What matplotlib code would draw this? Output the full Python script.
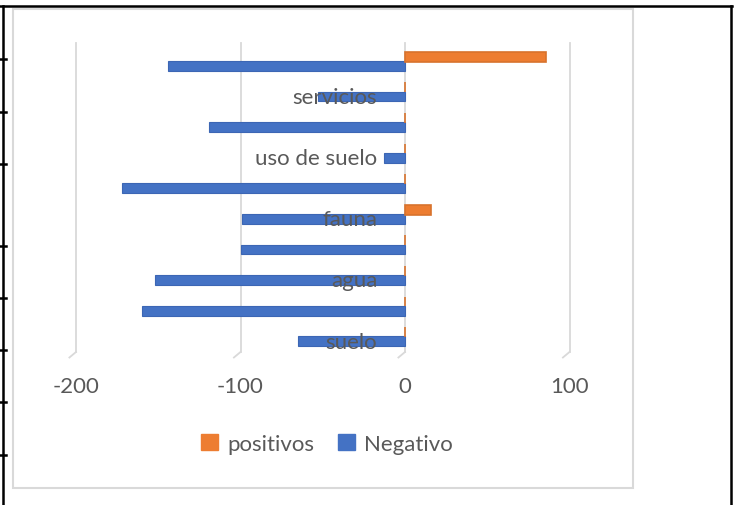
import numpy as np
import matplotlib
matplotlib.use("Agg")
import matplotlib.pyplot as plt
import matplotlib.transforms as mtransforms
from matplotlib.patches import Rectangle, Patch
from matplotlib.lines import Line2D

# categories bottom -> top (only every second label is shown in the original)
categories = ["suelo", "", "agua", "", "fauna", "", "uso de suelo", "", "servicios", ""]
negativo = [-65, -160, -152, -100, -99, -172, -13, -119, -53, -144]
positivos = [0, 0, 0, 0, 16, 0, 0, 0, 0, 86]
x_ticks = [-200, -100, 0, 100]

blue = "#4472C4"
orange = "#ED7D31"
txt = "#595959"
grid = "#D9D9D9"

plt.rcParams["font.family"] = ["Lato", "DejaVu Sans"]

W, H = 734, 506
fig = plt.figure(figsize=(W / 100, H / 100), dpi=100)

def fx(px):
    return px / W

def fy(py):
    return 1 - py / H

# page/table lines around the chart
for (x0, y0, x1, y1) in [(0, 7, 732, 7), (3, 7, 3, 506), (731, 7, 731, 506)]:
    fig.add_artist(Line2D([fx(x0), fx(x1)], [fy(y0), fy(y1)], color="black", lw=1.8))
for ys in [60, 113, 165, 247, 299, 351, 403, 456]:
    fig.add_artist(Line2D([fx(0), fx(6)], [fy(ys), fy(ys)], color="black", lw=1.8))

# chart area border
fig.add_artist(Rectangle((fx(13), fy(489)), fx(633) - fx(13), fy(10) - fy(489),
                         fill=False, edgecolor=grid, lw=1.5))

ax = fig.add_axes([fx(76), fy(353), fx(569.5) - fx(76), fy(47) - fy(353)])
y = np.arange(len(categories))
h = 0.32

ax.barh(y - 0.15, negativo, height=h, color=blue, edgecolor="#3C66B4", lw=0.8, zorder=2)
ax.barh(y + 0.15, positivos, height=h, color=orange, edgecolor="#D8732D", lw=1.2, zorder=2)

ax.set_xlim(-200, 100)
ax.set_ylim(-0.5, len(categories) - 0.5)

# vertical gridlines with small 3d foot
for t in x_ticks:
    ax.plot([t, t], [-0.5, 9.6], color=grid, lw=1.3, zorder=1, clip_on=False)
    ax.plot([t, t - 4], [-0.5, -0.68], color=grid, lw=1.3, zorder=1, clip_on=False)

for s in ax.spines.values():
    s.set_visible(False)

ax.set_xticks(x_ticks)
ax.set_xticklabels([str(t) for t in x_ticks])
ax.tick_params(axis="x", length=0, pad=17, labelsize=16, labelcolor=txt)

ax.spines["left"].set_position(("data", 0))
ax.set_yticks(y)
ax.set_yticklabels(categories)
ax.tick_params(axis="y", length=0, pad=20, labelsize=16, labelcolor=txt)
ax.yaxis.set_zorder(5)
off = mtransforms.ScaledTranslation(0, -3 / 100, fig.dpi_scale_trans)
for lab in ax.get_yticklabels():
    lab.set_transform(lab.get_transform() + off)

handles = [Patch(facecolor=orange, edgecolor=orange), Patch(facecolor=blue, edgecolor=blue)]
fig.legend(handles, ["positivos", "Negativo"], loc="center",
           bbox_to_anchor=(fx(327), fy(445)), ncol=2, frameon=False,
           fontsize=16, labelcolor=txt, handlelength=0.75, handleheight=0.75,
           handletextpad=0.4, columnspacing=1.1)

fig.savefig("out.png", dpi=100)
